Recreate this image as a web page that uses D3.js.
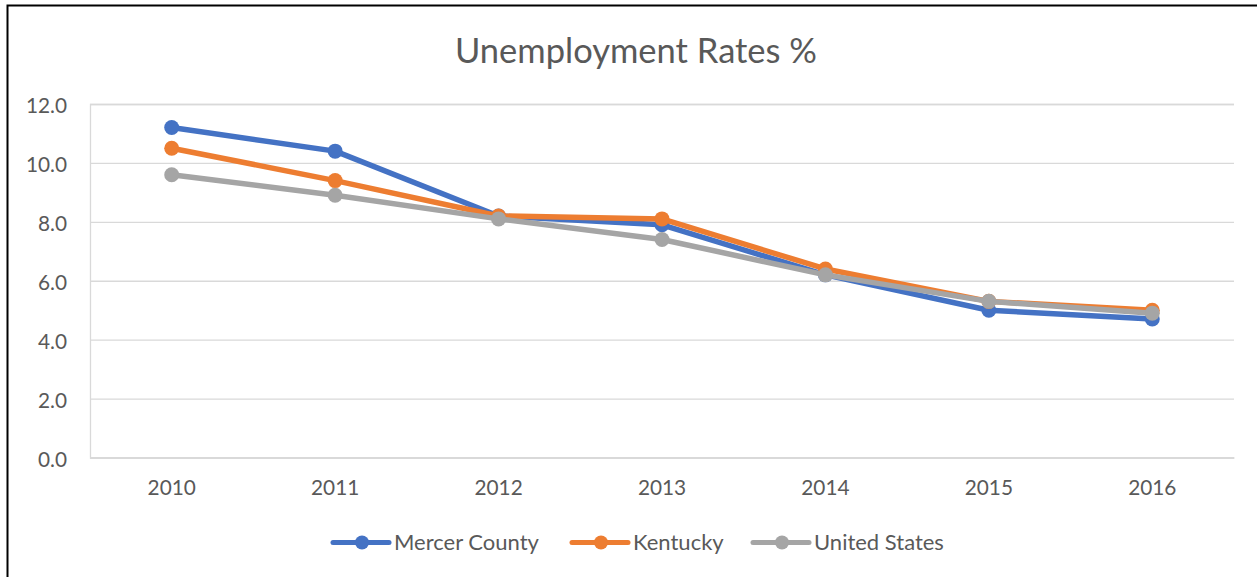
<!DOCTYPE html>
<html>
<head>
<meta charset="utf-8">
<script src="https://cdn.jsdelivr.net/npm/d3@7"></script>
<style>
  html, body { margin: 0; padding: 0; background: #fff; }
  svg { display: block; font-family: Lato, "Open Sans", sans-serif; }
</style>
</head>
<body>
<svg id="chart" width="1257" height="577"></svg>
<script>
// Annual unemployment rates (%)
const years = ["2010", "2011", "2012", "2013", "2014", "2015", "2016"];
const mercerCounty = [11.2, 10.4, 8.2, 7.9, 6.2, 5.0, 4.7];
const kentucky = [10.5, 9.4, 8.2, 8.1, 6.4, 5.3, 5.0];
const unitedStates = [9.6, 8.9, 8.1, 7.4, 6.2, 5.3, 4.9];
const seriesNames = ["Mercer County", "Kentucky", "United States"];
const yTicks = [0, 2, 4, 6, 8, 10, 12];
const chartTitle = "Unemployment Rates %";

const seriesValues = [mercerCounty, kentucky, unitedStates];
const colors = ["#4472C4", "#ED7D31", "#A5A5A5"];
const textColor = "#595959";
const gridColor = "#D9D9D9";

const svg = d3.select("#chart");
const plot = { left: 90, right: 1234, top: 104, bottom: 457.5 };

// Chart frame
svg.append("rect")
  .attr("x", 7.5).attr("y", 5.5)
  .attr("width", 1300).attr("height", 650)
  .attr("fill", "#fff")
  .attr("stroke", "#000").attr("stroke-width", 2);

// Title
svg.append("text")
  .attr("x", 636).attr("y", 62.5)
  .attr("text-anchor", "middle")
  .attr("fill", textColor)
  .attr("font-size", 34.5)
  .text(chartTitle);

const x = d3.scaleBand().domain(years).range([plot.left, plot.right]);
const y = d3.scaleLinear().domain([0, 12]).range([plot.bottom, plot.top]);

// Horizontal gridlines with value labels
const yAxis = d3.axisLeft(y).tickValues(yTicks).tickFormat(d3.format(".1f"))
  .tickSize(-(plot.right - plot.left)).tickPadding(23);
const gy = svg.append("g").attr("transform", `translate(${plot.left},0)`).call(yAxis);
gy.select(".domain").attr("stroke", gridColor).attr("stroke-width", 1.3);
gy.selectAll(".tick line").attr("stroke", gridColor).attr("stroke-width", 1.3);
gy.selectAll(".tick text")
  .attr("fill", textColor).attr("font-size", 20.8)
  .attr("font-family", "Lato, sans-serif").attr("dy", "0.43em");

// Category axis
const xAxis = d3.axisBottom(x).tickSize(0).tickPadding(23);
const gx = svg.append("g").attr("transform", `translate(0,${plot.bottom})`).call(xAxis);
gx.select(".domain").attr("stroke", gridColor).attr("stroke-width", 1.3);
gx.selectAll(".tick text")
  .attr("fill", textColor).attr("font-size", 20.8)
  .attr("font-family", "Lato, sans-serif");

// Series lines and markers
const line = d3.line()
  .x((d, i) => x(years[i]) + x.bandwidth() / 2)
  .y(d => y(d));

seriesValues.forEach((vals, s) => {
  const g = svg.append("g");
  g.append("path")
    .datum(vals)
    .attr("d", line)
    .attr("fill", "none")
    .attr("stroke", colors[s])
    .attr("stroke-width", 5.5)
    .attr("stroke-linejoin", "round")
    .attr("stroke-linecap", "round");
  g.selectAll("circle")
    .data(vals)
    .join("circle")
    .attr("cx", (d, i) => x(years[i]) + x.bandwidth() / 2)
    .attr("cy", d => y(d))
    .attr("r", 7.5)
    .attr("fill", colors[s]);
});

// Legend
const legendX = [333, 572, 753];
const legend = svg.append("g");
seriesNames.forEach((name, s) => {
  const lg = legend.append("g").attr("transform", `translate(${legendX[s]},542.5)`);
  lg.append("line")
    .attr("x1", 0).attr("x2", 56)
    .attr("stroke", colors[s]).attr("stroke-width", 5)
    .attr("stroke-linecap", "round");
  lg.append("circle").attr("cx", 29).attr("r", 7).attr("fill", colors[s]);
  lg.append("text")
    .attr("x", 61).attr("dy", "0.36em")
    .attr("fill", textColor).attr("font-size", 22)
    .text(name);
});
</script>
</body>
</html>
